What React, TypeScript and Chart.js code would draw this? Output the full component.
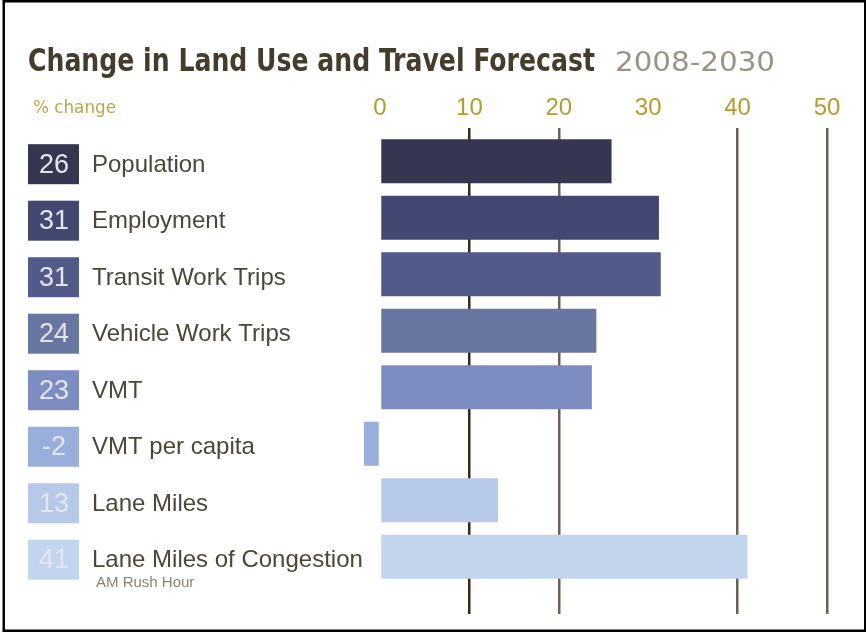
import React, { useEffect, useRef } from "react";
import { Chart, registerables } from "chart.js";

Chart.register(...registerables);

const titleText = "Change in Land Use and Travel Forecast";
const periodText = "2008-2030";
const unitText = "% change";
const categories = [
  "Population",
  "Employment",
  "Transit Work Trips",
  "Vehicle Work Trips",
  "VMT",
  "VMT per capita",
  "Lane Miles",
  "Lane Miles of Congestion",
];
const subLabels = ["", "", "", "", "", "", "", "AM Rush Hour"];
const changeValues = [25.9, 31.2, 31.4, 24.2, 23.7, -1.8, 13.2, 41.1];
const changeLabels = ["26", "31", "31", "24", "23", "-2", "13", "41"];
const barColors = [
  "#353650",
  "#424872",
  "#525a8a",
  "#6a76a2",
  "#7d8dc2",
  "#99aedb",
  "#b7c9e8",
  "#c3d5ed",
];
const xTicks = [0, 10, 20, 30, 40, 50];

const NARROW = "'DejaVu Sans Condensed', 'DejaVu Sans', sans-serif";
const SANS = "'Liberation Sans', Arial, sans-serif";

function fitText(ctx: CanvasRenderingContext2D, text: string, x: number, y: number, width: number) {
  const m = ctx.measureText(text).width;
  ctx.save();
  ctx.translate(x, y);
  ctx.scale(width / m, 1);
  ctx.fillText(text, 0, 0);
  ctx.restore();
}

const decorPlugin = {
  id: "decor",
  afterDraw(chart: any) {
    const ctx = chart.ctx as CanvasRenderingContext2D;
    const yScale = chart.scales.y;
    ctx.save();
    // frame
    ctx.strokeStyle = "#000";
    ctx.lineWidth = 2.5;
    ctx.strokeRect(3.75, 1.25, 861.5, 629.5);

    // title
    ctx.textBaseline = "alphabetic";
    ctx.textAlign = "left";
    ctx.font = `bold 32px ${NARROW}`;
    ctx.fillStyle = "#463c2c";
    fitText(ctx, titleText, 28, 71, 567);
    ctx.font = `26px ${NARROW}`;
    ctx.fillStyle = "#9d9385";
    fitText(ctx, periodText, 615, 71, 160);

    // unit
    ctx.font = `18px ${NARROW}`;
    ctx.fillStyle = "#bfa54a";
    ctx.textBaseline = "middle";
    fitText(ctx, unitText, 33, 108, 83);

    // row labels
    categories.forEach((name, i) => {
      const y = yScale.getPixelForValue(i) + 3;
      ctx.fillStyle = barColors[i];
      ctx.fillRect(28, y - 20, 51, 40);
      ctx.textAlign = "center";
      ctx.textBaseline = "middle";
      ctx.font = `27px ${SANS}`;
      ctx.fillStyle = "#e4e6ee";
      ctx.fillText(changeLabels[i], 54, y + 1);
      ctx.textAlign = "left";
      ctx.font = `24px ${SANS}`;
      ctx.fillStyle = "#4d4536";
      ctx.fillText(name, 92, y + 1);
      if (subLabels[i]) {
        ctx.font = `15px ${SANS}`;
        ctx.fillStyle = "#8a8172";
        ctx.fillText(subLabels[i], 96, y + 23);
      }
    });
    ctx.restore();
  },
};

export default function App() {
  const ref = useRef<HTMLCanvasElement | null>(null);
  useEffect(() => {
    if (!ref.current) return;
    const chart = new Chart(ref.current, {
      type: "bar",
      data: {
        datasets: [
          {
            data: changeValues.map((v, i) => ({ x: v, y: i })) as any,
            backgroundColor: barColors,
            borderWidth: 0,
            barPercentage: 0.78,
            categoryPercentage: 1,
          },
        ],
      },
      options: {
        indexAxis: "y",
        animation: false,
        responsive: false,
        maintainAspectRatio: false,
        layout: { padding: { left: 357.65, right: 21.1, top: 89.4, bottom: 18 } },
        plugins: {
          legend: { display: false },
          tooltip: { enabled: false },
          title: { display: false },
        },
        scales: {
          x: {
            type: "linear",
            position: "top",
            min: -2.5,
            max: 52,
            afterBuildTicks: (s: any) => {
              s.ticks = xTicks.map((v) => ({ value: v }));
            },
            grid: {
              drawTicks: false,
              lineWidth: 2.5,
              color: (c: any) =>
                c.tick && (c.tick.value === 30 || c.tick.value === 0)
                  ? "rgba(0,0,0,0)"
                  : c.tick && c.tick.value === 10
                  ? "#35291a"
                  : "#6b6350",
            },
            border: { display: false },
            ticks: {
              color: "#b39b2c",
              font: { family: SANS, size: 24 },
              padding: 5,
            },
          },
          y: {
            type: "linear",
            reverse: true,
            offset: false,
            min: -0.584,
            max: 8.013,
            display: false,
            afterBuildTicks: (s: any) => {
              s.ticks = categories.map((_, i) => ({ value: i }));
            },
          },
        },
      },
      plugins: [decorPlugin],
    } as any);
    return () => chart.destroy();
  }, []);
  return (
    <div style={{ position: "fixed", left: 0, top: 0, width: 866, height: 632, background: "#fff" }}>
      <canvas ref={ref} width={866} height={632} style={{ width: 866, height: 632, display: "block" }} />
    </div>
  );
}
